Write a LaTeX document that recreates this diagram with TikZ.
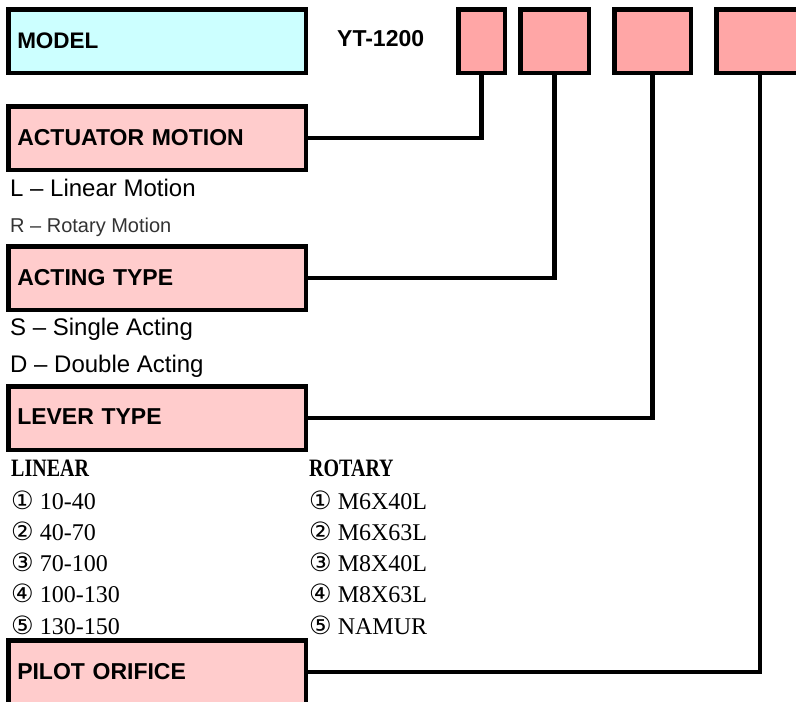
\documentclass[tikz,border=0pt]{standalone}
\usepackage{fontspec}
\setmainfont{Liberation Serif}
\setsansfont{Liberation Sans}
\newfontfamily\korfont[Scale=1.05]{DejaVu Sans}
\newfontfamily\fejfont[FakeStretch=0.8]{Liberation Serif}
\usetikzlibrary{positioning}
\definecolor{cian}{RGB}{204,255,255}
\definecolor{rozsa}{RGB}{255,204,204}
\definecolor{piros}{RGB}{255,166,166}
\tikzset{
  fodoboz/.style={draw,line width=4.5pt,fill=cian,anchor=north west,minimum width=297.5pt,
                  minimum height=63.5pt,inner xsep=9pt,text width=279.5pt,align=left,
                  font=\fontsize{22.5}{26}\selectfont\sffamily\bfseries},
  doboz/.style={fodoboz,fill=rozsa,text depth=2pt,font=\fontsize{23}{26}\selectfont\sffamily\bfseries},
  kod/.style={draw,line width=4.5pt,fill=piros,anchor=north west,minimum height=63.5pt,inner sep=0pt},
  sor/.style={anchor=base west,inner sep=0pt,font=\fontsize{24}{28}\selectfont\sffamily},
  fej/.style={anchor=base west,inner sep=0pt,font=\fontsize{25}{28}\fejfont\bfseries},
  tetel/.style={anchor=base west,inner sep=0pt,font=\fontsize{24}{28}\selectfont},
  vonal/.style={line width=4.5pt},
}
\begin{document}
\begin{tikzpicture}[x=1pt,y=-1pt]
  \clip (0,0) rectangle (796,702);
  % model code
  \node[fodoboz] (model) at (6,7) {MODEL};
  \node[anchor=base west,inner sep=0pt,font=\fontsize{23}{26}\selectfont\sffamily\bfseries] (yt) at (337,46) {YT-1200};
  \node[kod,minimum width=46.5pt] (k1) at (456,7) {};
  \node[kod,minimum width=68.5pt] (k2) at (518,7) {};
  \node[kod,minimum width=76.5pt] (k3) at (612,7) {};
  \node[kod,minimum width=87.5pt] (k4) at (714,7) {};
  % actuator motion
  \node[doboz] (motion) at (6,104) {ACTUATOR MOTION};
  \node[sor] (lin) at (10,196) {L – Linear Motion};
  \node[sor,font=\fontsize{20}{24}\selectfont\sffamily,text=black!80] (rot) at (10,232) {R – Rotary Motion};
  % acting type
  \node[doboz] (acting) at (6,244) {ACTING TYPE};
  \node[sor] (single) at (10,335) {S – Single Acting};
  \node[sor] (double) at (10,372) {D – Double Acting};
  % lever type
  \node[doboz] (lever) at (6,384) {LEVER TYPE};
  \begin{scope}
    \clip (0,455) rectangle (796,634);
    \node[fej] (linear) at (11,476) {LINEAR};
    \node[tetel] (l1) at (11,509) {{\korfont ①} 10-40};
    \node[tetel] (l2) at (11,540) {{\korfont ②} 40-70};
    \node[tetel] (l3) at (11,571) {{\korfont ③} 70-100};
    \node[tetel] (l4) at (11,602) {{\korfont ④} 100-130};
    \node[tetel] (l5) at (11,634) {{\korfont ⑤} 130-150};
    \node[fej] (rotary) at (309,476) {ROTARY};
    \node[tetel] (r1) at (309,509) {{\korfont ①} M6X40L};
    \node[tetel] (r2) at (309,540) {{\korfont ②} M6X63L};
    \node[tetel] (r3) at (309,571) {{\korfont ③} M8X40L};
    \node[tetel] (r4) at (309,602) {{\korfont ④} M8X63L};
    \node[tetel] (r5) at (309,634) {{\korfont ⑤} NAMUR};
  \end{scope}
  % pilot orifice
  \node[doboz] (pilot) at (6,638) {PILOT ORIFICE};
  % connectors
  \draw[vonal] (motion.east) -| (k1.south);
  \draw[vonal] (acting.east) -| (k2.south);
  \draw[vonal] (lever.east) -| (k3.south);
  \draw[vonal] (pilot.east) -| (k4.south);
\end{tikzpicture}
\end{document}
